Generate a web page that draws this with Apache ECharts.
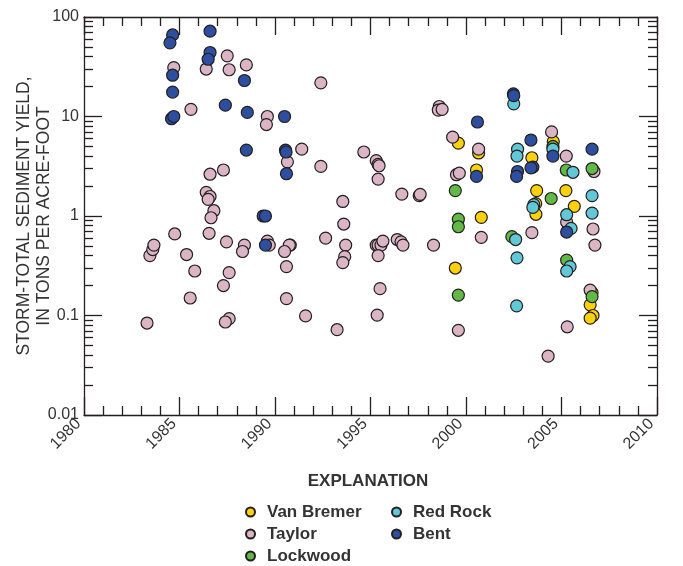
<!DOCTYPE html>
<html>
<head>
<meta charset="utf-8">
<title>Storm-total sediment yield</title>
<script src="https://cdn.jsdelivr.net/npm/echarts@6/dist/echarts.min.js"></script>
<style>
  html, body { margin: 0; padding: 0; background: #fff; }
  #chart { width: 683px; height: 566px; }
</style>
</head>
<body>
<div id="chart"></div>
<script>
// [year, storm-total sediment yield in tons per acre-foot]
const vanBremer = [
  [1999.6, 5.4], [1999.44, 0.30], [2000.66, 4.3], [2000.55, 2.9], [2000.8, 0.97],
  [2003.45, 3.85], [2003.7, 1.8], [2003.65, 1.33], [2003.66, 1.04], [2004.57, 5.6],
  [2005.23, 1.8], [2005.67, 1.25], [2006.6, 0.17], [2006.5, 0.128], [2006.65, 0.10], [2006.5, 0.094]
];
const taylor = [
  [1983.3, 0.084], [1983.45, 0.40], [1983.6, 0.46], [1983.66, 0.51], [1984.7, 31], [1984.75, 0.66],
  [1985.6, 11.8], [1985.37, 0.41], [1985.8, 0.28], [1985.56, 0.15],
  [1986.4, 30], [1986.6, 2.63], [1986.4, 1.73], [1986.6, 1.57], [1986.5, 1.47], [1986.8, 1.13],
  [1986.65, 0.96], [1986.55, 0.67],
  [1987.5, 40.7], [1987.6, 29.5], [1987.3, 2.9], [1987.46, 0.55], [1987.6, 0.27], [1987.3, 0.20],
  [1987.6, 0.093], [1987.4, 0.086],
  [1988.5, 33], [1988.4, 0.51], [1988.3, 0.44],
  [1989.6, 10], [1989.55, 8.3], [1989.6, 0.56], [1989.7, 0.51],
  [1990.65, 3.5], [1990.8, 0.51], [1990.75, 0.51], [1990.5, 0.44], [1990.6, 0.31], [1990.6, 0.148],
  [1991.4, 4.7], [1991.6, 0.099],
  [1992.4, 21.8], [1992.4, 3.15], [1992.65, 0.60],
  [1993.25, 0.072], [1993.55, 1.4], [1993.6, 0.83], [1993.7, 0.51], [1993.65, 0.39], [1993.55, 0.34],
  [1994.65, 4.4],
  [1995.3, 3.6], [1995.4, 3.3], [1995.45, 3.2], [1995.4, 2.35], [1995.3, 0.51], [1995.4, 0.51],
  [1995.55, 0.51], [1995.65, 0.56], [1995.4, 0.40], [1995.5, 0.186], [1995.35, 0.101],
  [1996.4, 0.58], [1996.6, 0.55], [1996.7, 0.51], [1996.64, 1.66],
  [1997.55, 1.6], [1997.6, 1.65],
  [1998.3, 0.51], [1998.6, 12.6], [1998.55, 11.6], [1998.75, 11.8],
  [1999.3, 6.2], [1999.5, 2.6], [1999.65, 2.7], [1999.6, 0.071],
  [2000.66, 4.7], [2000.8, 0.61],
  [2003.45, 0.68], [2004.48, 7.0], [2004.3, 0.039],
  [2005.25, 4.0], [2005.27, 0.87], [2005.3, 0.077],
  [2006.7, 2.8], [2006.65, 0.74], [2006.75, 0.51], [2006.5, 0.18]
];
const lockwood = [
  [1999.44, 1.8], [1999.6, 0.93], [1999.6, 0.78], [1999.6, 0.16], [2002.4, 0.62],
  [2004.55, 5.0], [2004.46, 1.5], [2005.25, 2.9], [2005.27, 0.36], [2006.6, 3.0], [2006.6, 0.155]
];
const redRock = [
  [2002.5, 13.4], [2002.7, 4.7], [2002.67, 4.0], [2002.6, 0.58], [2002.67, 0.38], [2002.65, 0.125],
  [2003.55, 1.3], [2003.5, 1.22], [2004.55, 4.7], [2005.6, 2.75], [2006.6, 1.6], [2006.6, 1.07],
  [2005.27, 1.03], [2005.5, 0.75], [2005.45, 0.31], [2005.27, 0.28]
];
const bent = [
  [1984.64, 66], [1984.5, 55], [1984.64, 26], [1984.64, 17.6], [1984.58, 9.5], [1984.7, 10],
  [1986.6, 72], [1986.6, 44], [1986.5, 37.6], [1987.4, 13],
  [1988.4, 23], [1988.55, 11], [1988.5, 4.6], [1989.38, 1.0], [1989.5, 1.0], [1989.5, 0.51],
  [1990.5, 10], [1990.55, 4.6], [1990.58, 4.4], [1990.6, 2.66],
  [2000.6, 8.8], [2000.55, 2.5], [2002.48, 16.9], [2002.5, 16.2], [2002.7, 2.8], [2002.65, 2.5],
  [2003.4, 5.8], [2003.5, 3.1], [2003.4, 3.05], [2004.55, 4.0], [2005.27, 0.69], [2006.6, 4.7]
];

const seriesNames = ['Van Bremer', 'Taylor', 'Lockwood', 'Red Rock', 'Bent'];
const seriesColors = ['#fdd20a', '#dbb5c4', '#62b946', '#62c7d6', '#2e4f9f'];
const seriesData = [vanBremer, taylor, lockwood, redRock, bent];

const yearMin = 1980, yearMax = 2010, yearStep = 5;
const yMin = 0.01, yMax = 100;
const yTickLabels = { '-2': '0.01', '-1': '0.1', '0': '1', '1': '10', '2': '100' };
// minor ticks 2..9 inside each decade
const yMinorTicks = [];
[0.01, 0.1, 1, 10].forEach(d => {
  for (let k = 2; k <= 9; k++) yMinorTicks.push(+(d * k).toPrecision(3));
});

const ink = '#231f20';
const fontFamily = '"Liberation Sans", Arial, Helvetica, sans-serif';

const chart = echarts.init(document.getElementById('chart'), null, { renderer: 'canvas' });

// helpers for the mirrored frame axes
function xAxisCfg(pos, labels) {
  return {
    type: 'value', position: pos, min: yearMin, max: yearMax, interval: yearStep,
    axisLine: { show: true, lineStyle: { color: ink, width: 1.3 } },
    axisTick: { show: true, inside: true, length: 18, lineStyle: { color: ink, width: 1.3 } },
    minorTick: { show: true, splitNumber: 5, length: 9, lineStyle: { color: ink, width: 1.3 } },
    splitLine: { show: false },
    axisLabel: labels ? {
      show: true, rotate: 45, margin: 12, verticalAlign: 'bottom',
      fontSize: 16, color: '#333', fontFamily: fontFamily,
      formatter: v => String(v)
    } : { show: false }
  };
}
function yMajorCfg(pos, labels) {
  return {
    type: 'log', logBase: 10, position: pos, min: yMin, max: yMax,
    axisLine: { show: true, lineStyle: { color: ink, width: 1.3 } },
    axisTick: { show: true, inside: true, length: 18, lineStyle: { color: ink, width: 1.3 } },
    splitLine: { show: false },
    axisLabel: labels ? {
      show: true, margin: 5, fontSize: 16, color: '#333', fontFamily: fontFamily,
      formatter: v => yTickLabels[Math.round(Math.log10(v))] || ''
    } : { show: false }
  };
}
function yMinorCfg(pos) {
  return {
    type: 'log', logBase: 10, position: pos, min: yMin, max: yMax,
    axisLine: { show: false },
    axisTick: { show: true, inside: true, length: 9, customValues: yMinorTicks,
      lineStyle: { color: ink, width: 1.3 } },
    splitLine: { show: false },
    axisLabel: { show: false }
  };
}

const yName = yMajorCfg('left', true);
yName.name = 'STORM-TOTAL SEDIMENT YIELD,\nIN TONS PER ACRE-FOOT';
yName.nameLocation = 'middle';
yName.nameGap = 30;
yName.nameMoveOverlap = false;
yName.nameTextStyle = { fontSize: 17.5, lineHeight: 20, color: '#333', fontFamily: fontFamily };

const legendBase = {
  orient: 'vertical', top: 503, padding: 0, itemWidth: 9, itemHeight: 9, itemGap: 4, icon: 'circle',
  textStyle: { fontSize: 17, fontWeight: 'bold', color: '#333', fontFamily: fontFamily,
    lineHeight: 18, padding: [0, 0, 0, 7] }
};

const option = {
  animation: false,
  backgroundColor: '#fff',
  title: {
    text: 'EXPLANATION', left: 368, top: 473, textAlign: 'center', padding: 0,
    textStyle: { fontSize: 17, fontWeight: 'bold', color: '#333', fontFamily: fontFamily }
  },
  legend: [
    Object.assign({}, legendBase, { left: 245, data: seriesNames.slice(0, 3) }),
    Object.assign({}, legendBase, { left: 391, data: seriesNames.slice(3) })
  ],
  grid: { left: 84, right: 26, top: 17, bottom: 151, outerBoundsMode: 'none' },
  xAxis: [xAxisCfg('bottom', true), xAxisCfg('top', false)],
  yAxis: [yName, yMinorCfg('left'), yMajorCfg('right', false), yMinorCfg('right')],
  series: seriesNames.map((name, i) => ({
    name: name,
    type: 'scatter',
    data: seriesData[i],
    symbol: 'circle',
    symbolSize: 12,
    itemStyle: { color: seriesColors[i], borderColor: ink, borderWidth: 1.2, opacity: 1 }
  }))
};

chart.setOption(option);
</script>
</body>
</html>
